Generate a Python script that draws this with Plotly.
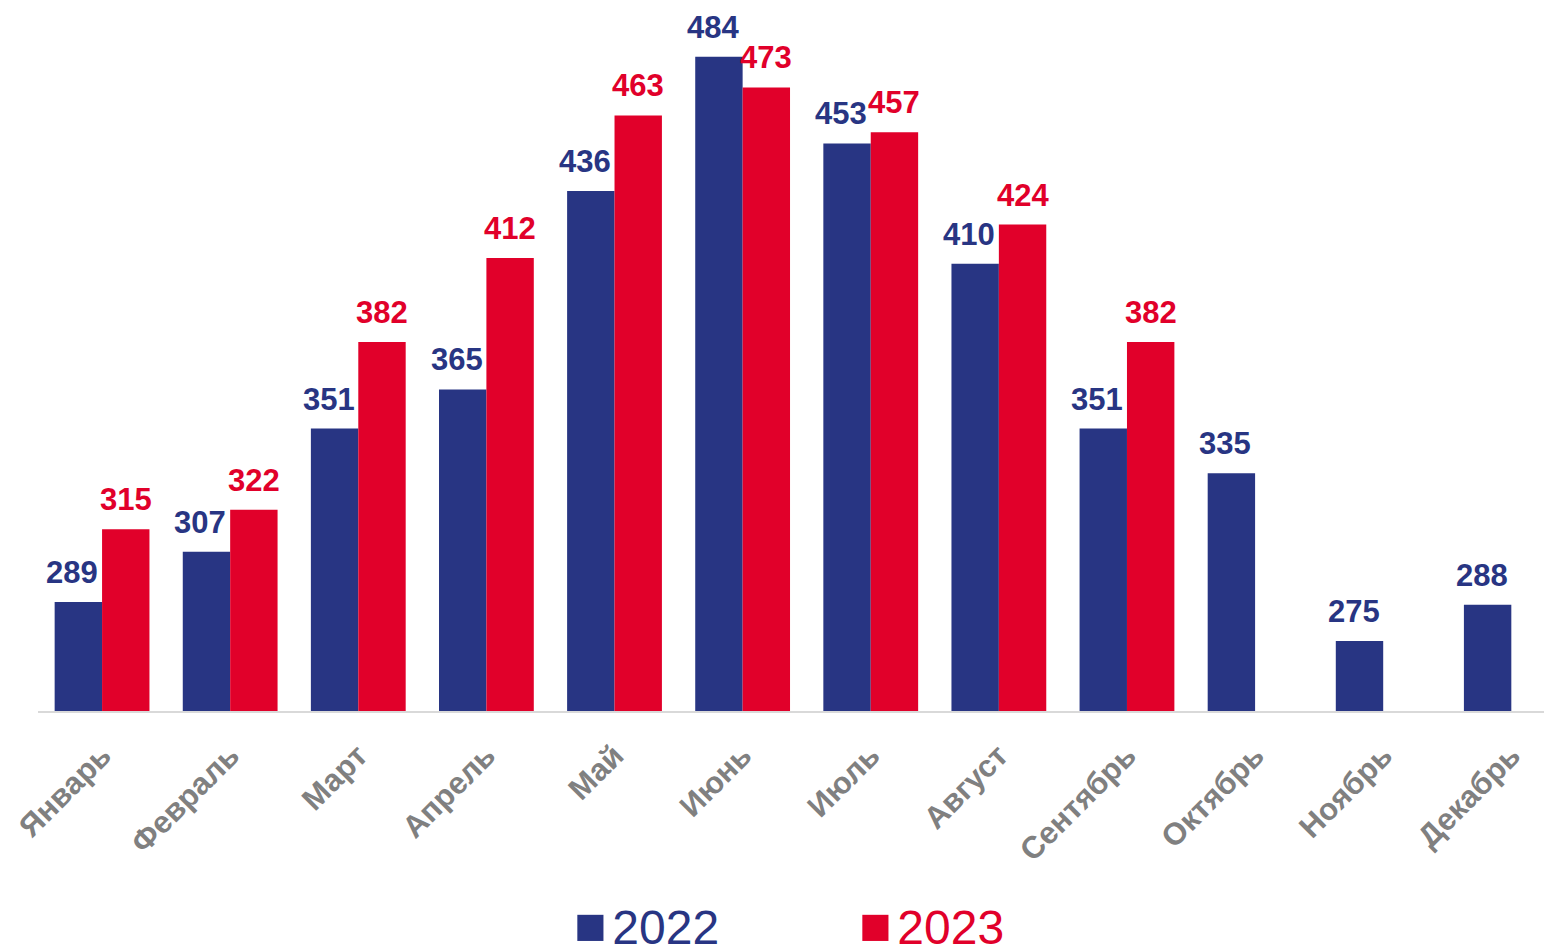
import plotly.graph_objects as go

months = ["Январь", "Февраль", "Март", "Апрель", "Май", "Июнь", "Июль",
          "Август", "Сентябрь", "Октябрь", "Ноябрь", "Декабрь"]
v2022 = [289, 307, 351, 365, 436, 484, 453, 410, 351, 335, 275, 288]
v2023 = [315, 322, 382, 412, 463, 473, 457, 424, 382, None, None, None]
series_names = ["2022", "2023"]

NAVY = "#283583"
RED = "#E1002A"
FONT = "Liberation Sans"

fig = go.Figure()
for vals, name, col in [(v2022, series_names[0], NAVY), (v2023, series_names[1], RED)]:
    fig.add_trace(go.Bar(
        x=months, y=vals, name=name, showlegend=False,
        marker=dict(color=col, line=dict(width=0)),
    ))
    # legend entry (square glyph + label)
    fig.add_trace(go.Scatter(
        x=[None], y=[None], mode="none", showlegend=True,
        name=(f'<span style="color:{col};font-size:54px">■</span>'
              f'<span style="font-size:20px"> </span>'
              f'<span style="color:{col}">{name}</span>'),
    ))

# value labels above bars
annotations = []
BAR_HALF = 23.7
for vals, col, sh in [(v2022, NAVY, -BAR_HALF - 6), (v2023, RED, BAR_HALF)]:
    for m, v in zip(months, vals):
        if v is None:
            continue
        annotations.append(dict(
            x=m, y=v, xref="x", yref="y", text=str(v), showarrow=False,
            xanchor="center", yanchor="bottom", xshift=sh, yshift=10,
            font=dict(color=col, size=31, family=FONT, weight="bold"),
        ))

fig.update_layout(
    width=1552, height=945,
    paper_bgcolor="white", plot_bgcolor="white",
    margin=dict(l=30, r=0, t=4, b=242, autoexpand=False),
    barmode="group", bargap=0.26, bargroupgap=0,
    font=dict(family=FONT),
    showlegend=True,
    legend=dict(orientation="h", x=0.326, xanchor="left", y=-0.307, yanchor="middle",
                font=dict(size=48, family=FONT),
                entrywidth=240, entrywidthmode="pixels", itemwidth=30),
    annotations=annotations,
)
fig.update_xaxes(
    range=[-0.5, 11.38],
    showline=True, linecolor="#d9d9d9", linewidth=2, ticks="",
    tickangle=-45, ticklabelstandoff=12,
    tickfont=dict(size=31, color="#808080", family=FONT, weight="bold"),
)
fig.update_yaxes(range=[250, 500], visible=False, showgrid=False)

fig.write_html("out.html")
